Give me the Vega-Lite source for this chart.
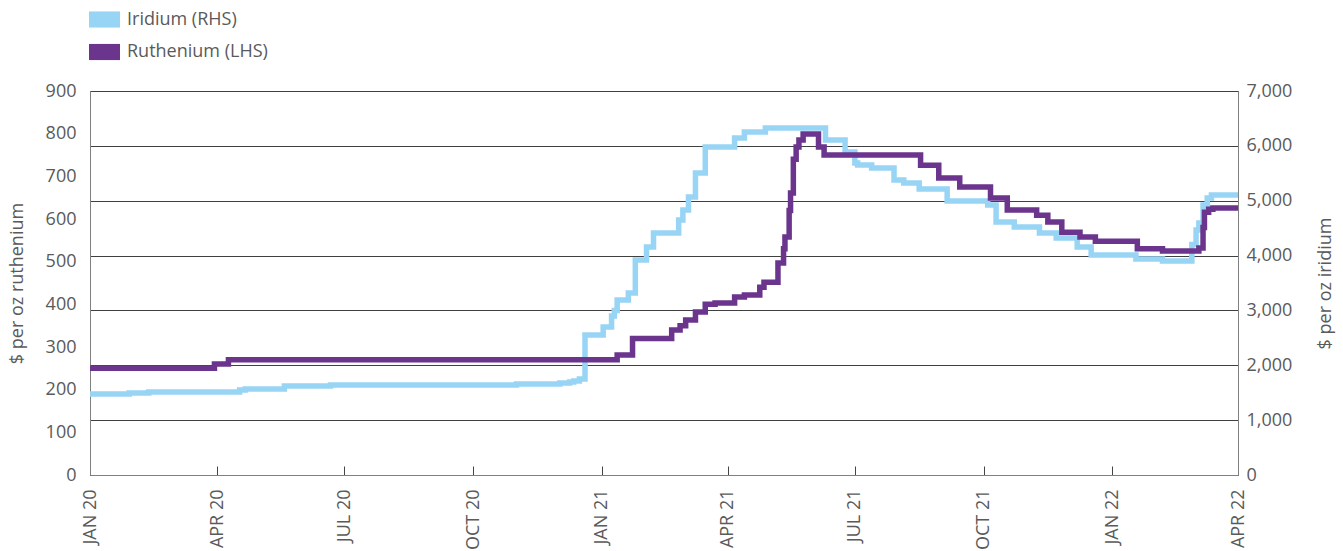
{
  "$schema": "https://vega.github.io/schema/vega-lite/v6.json",
  "autosize": {"type": "none"},
  "width": 1148,
  "height": 384,
  "padding": {"left": 90, "top": 91, "right": 105, "bottom": 76},
  "background": "white",
  "config": {
    "font": "Open Sans",
    "view": {"stroke": "#6a6a6a", "strokeWidth": 1},
    "axis": {"labelColor": "#5a5a5a", "titleColor": "#5a5a5a", "labelFontSize": 18, "titleFontSize": 18, "titleFontWeight": "normal", "domainColor": "#808080", "labelFont": "Open Sans", "titleFont": "Open Sans"},
    "legend": {"labelColor": "#5a5a5a", "labelFontSize": 18, "labelFont": "Open Sans"}
  },
  "datasets": {
    "prices": [
      {"date": "2020-01-01", "metal": "Iridium (RHS)", "price": 1476},
      {"date": "2020-01-29", "metal": "Iridium (RHS)", "price": 1495},
      {"date": "2020-02-12", "metal": "Iridium (RHS)", "price": 1513},
      {"date": "2020-04-17", "metal": "Iridium (RHS)", "price": 1550},
      {"date": "2020-04-21", "metal": "Iridium (RHS)", "price": 1568},
      {"date": "2020-05-19", "metal": "Iridium (RHS)", "price": 1622},
      {"date": "2020-06-21", "metal": "Iridium (RHS)", "price": 1640},
      {"date": "2020-11-01", "metal": "Iridium (RHS)", "price": 1659},
      {"date": "2020-12-02", "metal": "Iridium (RHS)", "price": 1677},
      {"date": "2020-12-09", "metal": "Iridium (RHS)", "price": 1695},
      {"date": "2020-12-12", "metal": "Iridium (RHS)", "price": 1713},
      {"date": "2020-12-16", "metal": "Iridium (RHS)", "price": 1750},
      {"date": "2020-12-20", "metal": "Iridium (RHS)", "price": 2552},
      {"date": "2021-01-02", "metal": "Iridium (RHS)", "price": 2698},
      {"date": "2021-01-08", "metal": "Iridium (RHS)", "price": 2900},
      {"date": "2021-01-10", "metal": "Iridium (RHS)", "price": 3000},
      {"date": "2021-01-12", "metal": "Iridium (RHS)", "price": 3190},
      {"date": "2021-01-20", "metal": "Iridium (RHS)", "price": 3318},
      {"date": "2021-01-25", "metal": "Iridium (RHS)", "price": 3919},
      {"date": "2021-02-02", "metal": "Iridium (RHS)", "price": 4156},
      {"date": "2021-02-07", "metal": "Iridium (RHS)", "price": 4411},
      {"date": "2021-02-25", "metal": "Iridium (RHS)", "price": 4648},
      {"date": "2021-02-28", "metal": "Iridium (RHS)", "price": 4830},
      {"date": "2021-03-04", "metal": "Iridium (RHS)", "price": 5067},
      {"date": "2021-03-09", "metal": "Iridium (RHS)", "price": 5505},
      {"date": "2021-03-16", "metal": "Iridium (RHS)", "price": 5979},
      {"date": "2021-04-06", "metal": "Iridium (RHS)", "price": 6143},
      {"date": "2021-04-13", "metal": "Iridium (RHS)", "price": 6252},
      {"date": "2021-04-28", "metal": "Iridium (RHS)", "price": 6325},
      {"date": "2021-06-10", "metal": "Iridium (RHS)", "price": 6106},
      {"date": "2021-06-24", "metal": "Iridium (RHS)", "price": 5888},
      {"date": "2021-07-01", "metal": "Iridium (RHS)", "price": 5687},
      {"date": "2021-07-03", "metal": "Iridium (RHS)", "price": 5651},
      {"date": "2021-07-13", "metal": "Iridium (RHS)", "price": 5596},
      {"date": "2021-07-29", "metal": "Iridium (RHS)", "price": 5377},
      {"date": "2021-08-05", "metal": "Iridium (RHS)", "price": 5323},
      {"date": "2021-08-16", "metal": "Iridium (RHS)", "price": 5213},
      {"date": "2021-09-05", "metal": "Iridium (RHS)", "price": 4994},
      {"date": "2021-10-04", "metal": "Iridium (RHS)", "price": 4922},
      {"date": "2021-10-10", "metal": "Iridium (RHS)", "price": 4612},
      {"date": "2021-10-23", "metal": "Iridium (RHS)", "price": 4521},
      {"date": "2021-11-10", "metal": "Iridium (RHS)", "price": 4411},
      {"date": "2021-11-22", "metal": "Iridium (RHS)", "price": 4320},
      {"date": "2021-12-07", "metal": "Iridium (RHS)", "price": 4156},
      {"date": "2021-12-17", "metal": "Iridium (RHS)", "price": 4010},
      {"date": "2022-01-18", "metal": "Iridium (RHS)", "price": 3937},
      {"date": "2022-02-06", "metal": "Iridium (RHS)", "price": 3901},
      {"date": "2022-02-27", "metal": "Iridium (RHS)", "price": 4200},
      {"date": "2022-03-02", "metal": "Iridium (RHS)", "price": 4466},
      {"date": "2022-03-04", "metal": "Iridium (RHS)", "price": 4593},
      {"date": "2022-03-07", "metal": "Iridium (RHS)", "price": 4922},
      {"date": "2022-03-10", "metal": "Iridium (RHS)", "price": 5049},
      {"date": "2022-03-13", "metal": "Iridium (RHS)", "price": 5104},
      {"date": "2022-04-01", "metal": "Iridium (RHS)", "price": 5104},
      {"date": "2020-01-01", "metal": "Ruthenium (LHS)", "price": 250},
      {"date": "2020-03-30", "metal": "Ruthenium (LHS)", "price": 260},
      {"date": "2020-04-09", "metal": "Ruthenium (LHS)", "price": 270},
      {"date": "2021-01-12", "metal": "Ruthenium (LHS)", "price": 281},
      {"date": "2021-01-23", "metal": "Ruthenium (LHS)", "price": 320},
      {"date": "2021-02-20", "metal": "Ruthenium (LHS)", "price": 340},
      {"date": "2021-02-26", "metal": "Ruthenium (LHS)", "price": 350},
      {"date": "2021-03-02", "metal": "Ruthenium (LHS)", "price": 363},
      {"date": "2021-03-09", "metal": "Ruthenium (LHS)", "price": 382},
      {"date": "2021-03-16", "metal": "Ruthenium (LHS)", "price": 400},
      {"date": "2021-03-23", "metal": "Ruthenium (LHS)", "price": 403},
      {"date": "2021-04-06", "metal": "Ruthenium (LHS)", "price": 417},
      {"date": "2021-04-13", "metal": "Ruthenium (LHS)", "price": 422},
      {"date": "2021-04-24", "metal": "Ruthenium (LHS)", "price": 440},
      {"date": "2021-04-27", "metal": "Ruthenium (LHS)", "price": 452},
      {"date": "2021-05-07", "metal": "Ruthenium (LHS)", "price": 497},
      {"date": "2021-05-11", "metal": "Ruthenium (LHS)", "price": 530},
      {"date": "2021-05-12", "metal": "Ruthenium (LHS)", "price": 558},
      {"date": "2021-05-15", "metal": "Ruthenium (LHS)", "price": 620},
      {"date": "2021-05-16", "metal": "Ruthenium (LHS)", "price": 661},
      {"date": "2021-05-18", "metal": "Ruthenium (LHS)", "price": 740},
      {"date": "2021-05-20", "metal": "Ruthenium (LHS)", "price": 769},
      {"date": "2021-05-22", "metal": "Ruthenium (LHS)", "price": 785},
      {"date": "2021-05-25", "metal": "Ruthenium (LHS)", "price": 799},
      {"date": "2021-06-05", "metal": "Ruthenium (LHS)", "price": 769},
      {"date": "2021-06-09", "metal": "Ruthenium (LHS)", "price": 750},
      {"date": "2021-08-17", "metal": "Ruthenium (LHS)", "price": 726},
      {"date": "2021-08-30", "metal": "Ruthenium (LHS)", "price": 696},
      {"date": "2021-09-14", "metal": "Ruthenium (LHS)", "price": 675},
      {"date": "2021-10-06", "metal": "Ruthenium (LHS)", "price": 649},
      {"date": "2021-10-18", "metal": "Ruthenium (LHS)", "price": 621},
      {"date": "2021-11-08", "metal": "Ruthenium (LHS)", "price": 609},
      {"date": "2021-11-16", "metal": "Ruthenium (LHS)", "price": 593},
      {"date": "2021-11-26", "metal": "Ruthenium (LHS)", "price": 569},
      {"date": "2021-12-09", "metal": "Ruthenium (LHS)", "price": 558},
      {"date": "2021-12-20", "metal": "Ruthenium (LHS)", "price": 548},
      {"date": "2022-01-19", "metal": "Ruthenium (LHS)", "price": 530},
      {"date": "2022-02-06", "metal": "Ruthenium (LHS)", "price": 525},
      {"date": "2022-03-04", "metal": "Ruthenium (LHS)", "price": 532},
      {"date": "2022-03-07", "metal": "Ruthenium (LHS)", "price": 580},
      {"date": "2022-03-08", "metal": "Ruthenium (LHS)", "price": 616},
      {"date": "2022-03-11", "metal": "Ruthenium (LHS)", "price": 623},
      {"date": "2022-03-14", "metal": "Ruthenium (LHS)", "price": 626},
      {"date": "2022-04-01", "metal": "Ruthenium (LHS)", "price": 626}
    ]
  },
  "data": {"name": "prices"},
  "encoding": {
    "x": {
      "field": "date",
      "type": "temporal",
      "scale": {"type": "utc", "domain": ["2020-01-01", "2022-04-01"], "nice": false},
      "axis": {
        "title": null,
        "grid": false,
        "values": ["2020-01-01", "2020-04-01", "2020-07-01", "2020-10-01", "2021-01-01", "2021-04-01", "2021-07-01", "2021-10-01", "2022-01-01", "2022-04-01"],
        "labelExpr": "upper(utcFormat(datum.value, '%b %y'))",
        "labelAngle": -90,
        "labelAlign": "right",
        "labelBaseline": "middle",
        "tickSize": -9,
        "tickColor": "#444444",
        "labelPadding": 23,
        "labelFlush": false,
        "labelOverlap": false,
        "domainColor": "#808080"
      }
    },
    "color": {
      "field": "metal",
      "type": "nominal",
      "scale": {"domain": ["Iridium (RHS)", "Ruthenium (LHS)"], "range": ["#98d5f5", "#6b358e"]},
      "legend": {
        "title": null,
        "orient": "none",
        "legendX": -1,
        "legendY": -87,
        "direction": "vertical",
        "symbolType": "M-1,-0.52H1V0.52H-1Z",
        "symbolSize": 961,
        "symbolStrokeWidth": 0,
        "labelOffset": 7,
        "rowPadding": 7.5,
        "encode": {"symbols": {"update": {"fill": {"scale": "color", "field": "value"}, "fillOpacity": {"value": 1}}}}
      }
    }
  },
  "layer": [
    {
      "transform": [{"filter": "datum.metal === 'Iridium (RHS)'"}],
      "mark": {"type": "line", "interpolate": "step-after", "strokeWidth": 5.5, "clip": false},
      "encoding": {
        "y": {
          "field": "price",
          "type": "quantitative",
          "scale": {"domain": [0, 7000], "nice": false},
          "axis": {
            "orient": "right",
            "title": "$ per oz iridium",
            "titleAngle": -90,
            "titleX": 87,
            "titleY": 192,
            "titleAlign": "center",
            "titleBaseline": "middle",
            "values": [0, 1000, 2000, 3000, 4000, 5000, 6000, 7000],
            "format": ",.0f",
            "ticks": false,
            "labelPadding": 8,
            "grid": true,
            "gridColor": "#404040",
            "gridWidth": 1,
            "domainColor": "#808080"
          }
        }
      }
    },
    {
      "transform": [{"filter": "datum.metal === 'Ruthenium (LHS)'"}],
      "mark": {"type": "line", "interpolate": "step-after", "strokeWidth": 5.5, "clip": false},
      "encoding": {
        "y": {
          "field": "price",
          "type": "quantitative",
          "scale": {"domain": [0, 900], "nice": false},
          "axis": {
            "orient": "left",
            "title": "$ per oz  ruthenium",
            "titleAngle": -90,
            "titleX": -73,
            "titleY": 192,
            "titleAlign": "center",
            "titleBaseline": "middle",
            "values": [0, 100, 200, 300, 400, 500, 600, 700, 800, 900],
            "ticks": false,
            "labelPadding": 14,
            "grid": false,
            "domainColor": "#808080"
          }
        }
      }
    }
  ],
  "resolve": {"scale": {"y": "independent"}}
}
